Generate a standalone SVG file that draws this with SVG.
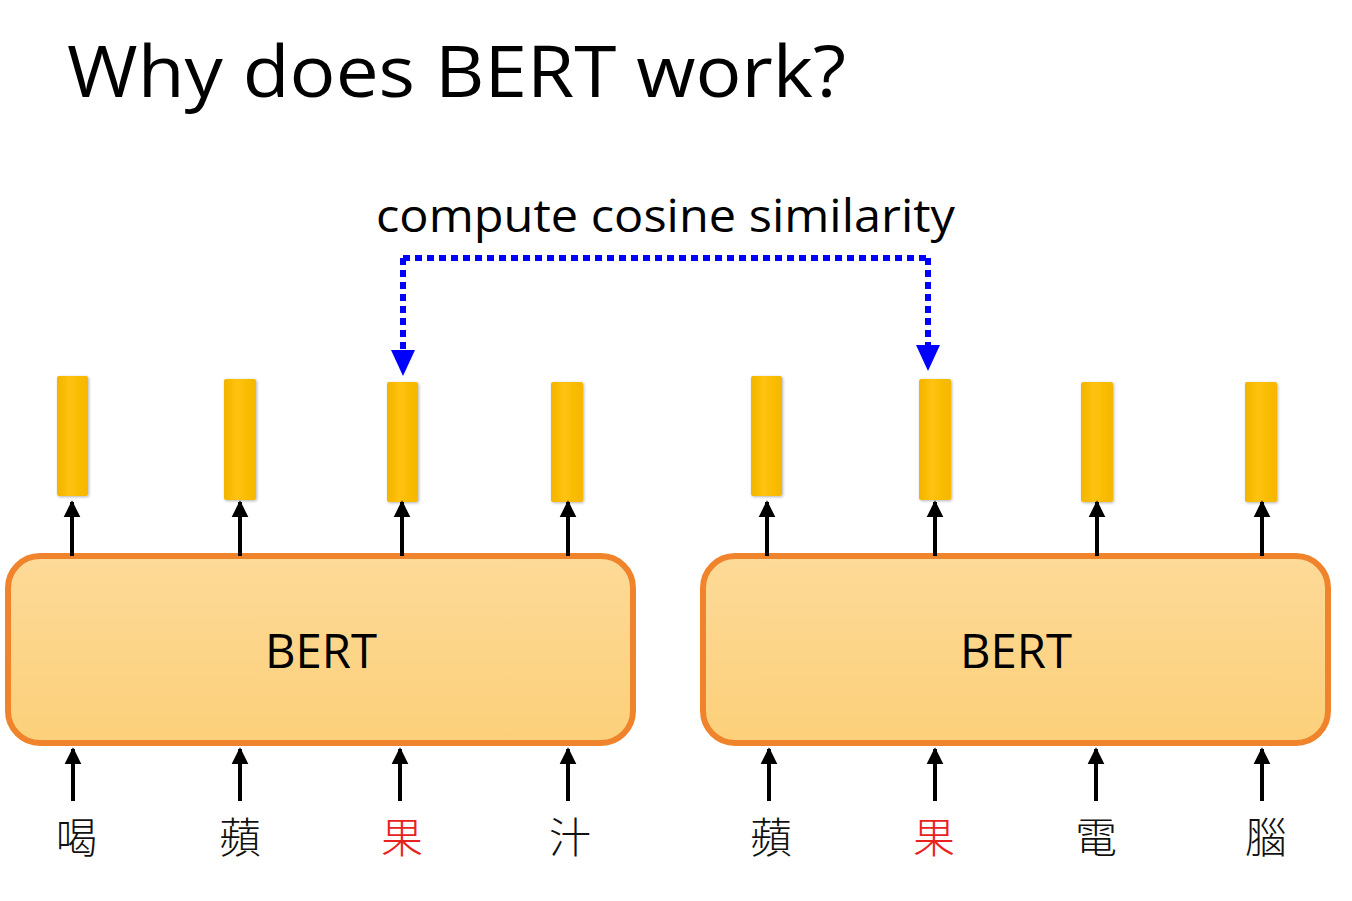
<svg xmlns="http://www.w3.org/2000/svg" width="1352" height="901" viewBox="0 0 1352 901">
<defs>
<linearGradient id="boxg" x1="0" y1="0" x2="0" y2="1">
<stop offset="0" stop-color="#FDDA98"/>
<stop offset="1" stop-color="#FCD07A"/>
</linearGradient>
<linearGradient id="barg" x1="0" y1="0" x2="1" y2="0">
<stop offset="0" stop-color="#F2B400"/>
<stop offset="0.4" stop-color="#FFC20A"/>
<stop offset="1" stop-color="#F5B700"/>
</linearGradient>
<filter id="sh" x="-30%" y="-10%" width="160%" height="120%">
<feDropShadow dx="1" dy="1" stdDeviation="1.5" flood-color="#000" flood-opacity="0.3"/>
</filter>
<marker id="ah" viewBox="0 0 10 10" refX="9" refY="5" markerWidth="4.2" markerHeight="4.4" orient="auto" markerUnits="strokeWidth">
<path d="M0,0 L10,5 L0,10 z" fill="#000"/>
</marker>
</defs>
<style>
.box{fill:url(#boxg);stroke:#F0842C;stroke-width:6}
.bar{fill:url(#barg);filter:url(#sh)}
.arr{stroke:#000;stroke-width:4;fill:none;marker-end:url(#ah)}
.dot{stroke:#0000FF;stroke-width:6;fill:none;stroke-dasharray:7 5}
.lbl{font-family:"Open Sans","Liberation Sans",sans-serif;fill:#000}
.cjk{font-family:"Noto Sans CJK TC","Noto Sans CJK SC",sans-serif;font-size:42px;font-weight:300;text-anchor:middle;fill:#111}
.red{fill:#E8221C}
</style>
<rect width="1352" height="901" fill="#fff"/>
<text class="lbl" x="67" y="97" font-size="72" textLength="779" lengthAdjust="spacingAndGlyphs">Why does BERT work?</text>
<text class="lbl" x="376" y="232" font-size="45" textLength="579" lengthAdjust="spacingAndGlyphs">compute cosine similarity</text>

<g id="bert-left">
<rect class="box" x="8" y="556" width="625" height="187" rx="32"/>
<text class="lbl" x="321" y="668" font-size="47" text-anchor="middle" textLength="112" lengthAdjust="spacingAndGlyphs">BERT</text>
</g>
<g id="bert-right">
<rect class="box" x="703" y="556" width="625" height="187" rx="32"/>
<text class="lbl" x="1016" y="668" font-size="47" text-anchor="middle" textLength="112" lengthAdjust="spacingAndGlyphs">BERT</text>
</g>

<g id="outputs">
<rect class="bar" x="57" y="376" width="31" height="120" rx="2"/>
<rect class="bar" x="224" y="379" width="32" height="121" rx="2"/>
<rect class="bar" x="387" y="382" width="31" height="120" rx="2"/>
<rect class="bar" x="551" y="382" width="32" height="120" rx="2"/>
<rect class="bar" x="751" y="376" width="31" height="120" rx="2"/>
<rect class="bar" x="919" y="379" width="32" height="121" rx="2"/>
<rect class="bar" x="1081" y="382" width="32" height="120" rx="2"/>
<rect class="bar" x="1245" y="382" width="32" height="120" rx="2"/>
</g>

<g id="tokens">
<text class="cjk" x="77" y="853">喝</text>
<text class="cjk" x="240" y="853">蘋</text>
<text class="cjk red" x="402" y="853">果</text>
<text class="cjk" x="570" y="853">汁</text>
<text class="cjk" x="771" y="853">蘋</text>
<text class="cjk red" x="934" y="853">果</text>
<text class="cjk" x="1096" y="853">電</text>
<text class="cjk" x="1266" y="853">腦</text>
</g>

<g id="connectors">
<line class="arr" x1="72" y1="556" x2="72" y2="502"/>
<line class="arr" x1="240" y1="556" x2="240" y2="502"/>
<line class="arr" x1="402" y1="556" x2="402" y2="502"/>
<line class="arr" x1="568" y1="556" x2="568" y2="502"/>
<line class="arr" x1="767" y1="556" x2="767" y2="502"/>
<line class="arr" x1="935" y1="556" x2="935" y2="502"/>
<line class="arr" x1="1097" y1="556" x2="1097" y2="502"/>
<line class="arr" x1="1262" y1="556" x2="1262" y2="502"/>
<line class="arr" x1="73" y1="801" x2="73" y2="749"/>
<line class="arr" x1="240" y1="801" x2="240" y2="749"/>
<line class="arr" x1="400" y1="801" x2="400" y2="749"/>
<line class="arr" x1="568" y1="801" x2="568" y2="749"/>
<line class="arr" x1="769" y1="801" x2="769" y2="749"/>
<line class="arr" x1="935" y1="801" x2="935" y2="749"/>
<line class="arr" x1="1096" y1="801" x2="1096" y2="749"/>
<line class="arr" x1="1262" y1="801" x2="1262" y2="749"/>
<path class="dot" d="M403,258 H928" />
<path class="dot" d="M403,258 V350" />
<path class="dot" d="M928,258 V345" />
<path d="M391,350 L415,350 L403,376 z" fill="#0000FF"/>
<path d="M916,345 L940,345 L928,371 z" fill="#0000FF"/>
</g>
</svg>
